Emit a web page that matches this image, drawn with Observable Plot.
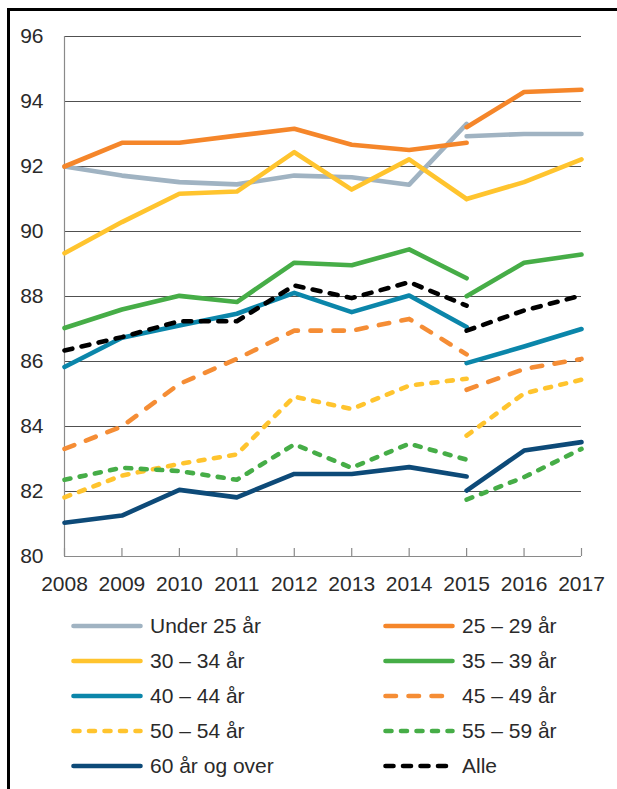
<!DOCTYPE html>
<html>
<head>
<meta charset="utf-8">
<script src="https://cdn.jsdelivr.net/npm/d3@7"></script>
<script src="https://cdn.jsdelivr.net/npm/@observablehq/plot@0.6"></script>
<style>
  html, body { margin: 0; padding: 0; background: #fff; }
  body { width: 617px; height: 789px; position: relative; overflow: hidden; font-family: "Liberation Sans", Arial, sans-serif; }
  #frameTop { position: absolute; left: 7px; top: 8px; width: 610px; height: 3px; background: #000; }
  #frameLeft { position: absolute; left: 7px; top: 8px; width: 2.5px; height: 781px; background: #000; }
  #chart { position: absolute; left: 0; top: 0; }
  #legend { position: absolute; left: 71px; top: 608px; display: grid; grid-template-columns: 312px 200px; grid-auto-rows: 35px; }
  .item { display: flex; align-items: center; font-size: 21px; font-weight: 400; color: #2a2a2a; white-space: nowrap; }
  .item svg { margin-right: 7px; flex: none; }
</style>
</head>
<body>
<div id="chart"></div>
<div id="frameTop"></div>
<div id="frameLeft"></div>
<div id="legend"></div>
<script>
// Years and tick values
const years = [2008, 2009, 2010, 2011, 2012, 2013, 2014, 2015, 2016, 2017];
const yearsA = [2008, 2009, 2010, 2011, 2012, 2013, 2014, 2015];
const yearsB = [2015, 2016, 2017];
const yTicks = [80, 82, 84, 86, 88, 90, 92, 94, 96];

// Series names (legend labels)
const names = ["Under 25 år", "25 – 29 år", "30 – 34 år", "35 – 39 år", "40 – 44 år",
               "45 – 49 år", "50 – 54 år", "55 – 59 år", "60 år og over", "Alle"];

// Values 2008–2015 (old series) and 2015–2017 (new series)
const under25A = [92.0, 91.72, 91.52, 91.45, 91.72, 91.67, 91.44, 93.31];
const under25B = [92.93, 93.0, 93.0];
const age25A = [92.0, 92.73, 92.73, 92.95, 93.16, 92.67, 92.51, 92.73];
const age25B = [93.21, 94.29, 94.36];
const age30A = [89.33, 90.29, 91.16, 91.23, 92.44, 91.29, 92.22, 91.0];
const age30B = [91.0, 91.52, 92.22];
const age35A = [87.03, 87.6, 88.02, 87.83, 89.04, 88.96, 89.45, 88.56];
const age35B = [88.01, 89.04, 89.29];
const age40A = [85.83, 86.73, 87.11, 87.47, 88.11, 87.52, 88.03, 87.06];
const age40B = [85.95, 86.46, 87.0];
const age45A = [83.31, 84.0, 85.31, 86.08, 86.95, 86.95, 87.31, 86.22];
const age45B = [85.13, 85.77, 86.08];
const age50A = [81.82, 82.49, 82.85, 83.14, 84.92, 84.54, 85.26, 85.47];
const age50B = [83.72, 85.02, 85.44];
const age55A = [82.36, 82.73, 82.63, 82.36, 83.45, 82.73, 83.47, 82.98];
const age55B = [81.75, 82.44, 83.31];
const age60A = [81.04, 81.26, 82.05, 81.82, 82.54, 82.54, 82.75, 82.46];
const age60B = [82.03, 83.26, 83.52];
const alleA = [86.34, 86.75, 87.24, 87.24, 88.34, 87.95, 88.44, 87.72];
const alleB = [86.95, 87.57, 88.03];

// Styles
const colors = ["#a0b3c2", "#f5862a", "#ffc42e", "#46ad47", "#0b86aa",
                "#f58d35", "#ffc42e", "#46ad47", "#0d4a78", "#000000"];
const dashes = [null, null, null, null, null, "10.5,12.5", "6,9.5", "6,9.5", null, "8,9.5"];

const seriesA = [under25A, age25A, age30A, age35A, age40A, age45A, age50A, age55A, age60A, alleA];
const seriesB = [under25B, age25B, age30B, age35B, age40B, age45B, age50B, age55B, age60B, alleB];

const drawOrder = [0, 1, 2, 3, 4, 5, 6, 7, 8, 9];

const lineMarks = drawOrder.map(i => {
  const rows = [
    ...yearsA.map((yr, k) => ({year: yr, value: seriesA[i][k], seg: "A"})),
    ...yearsB.map((yr, k) => ({year: yr, value: seriesB[i][k], seg: "B"}))
  ];
  const opts = {x: "year", y: "value", z: "seg", stroke: colors[i], strokeWidth: 4.6,
                strokeLinecap: "round", strokeLinejoin: "round"};
  if (dashes[i]) opts.strokeDasharray = dashes[i];
  return Plot.line(rows, opts);
});

const chart = Plot.plot({
  width: 617,
  height: 600,
  marginLeft: 64,
  marginRight: 36,
  marginTop: 36,
  marginBottom: 44,
  style: {fontFamily: "'Liberation Sans', Arial, sans-serif", fontSize: "21px", color: "#2a2a2a", background: "transparent"},
  x: {domain: [2008, 2017], label: null},
  y: {domain: [80, 96], label: null},
  marks: [
    Plot.ruleY(yTicks.filter(t => t > 80), {y: d => d, stroke: "#505050", strokeWidth: 1}),
    Plot.ruleX([2008], {stroke: "#8a8a8a", strokeWidth: 1.2}),
    Plot.ruleY([80], {stroke: "#8a8a8a", strokeWidth: 1.2}),
    Plot.axisX({ticks: years, tickFormat: () => "", tickSize: -8, stroke: "#8a8a8a", strokeWidth: 1.2, label: null}),
    Plot.axisX({ticks: years, tickFormat: "d", tickSize: 0, tickPadding: 20, fill: "#2a2a2a", label: null}),
    Plot.axisY({ticks: yTicks, tickSize: 0, tickPadding: 21, fill: "#2a2a2a", label: null}),
    ...lineMarks
  ]
});
document.getElementById("chart").appendChild(chart);

// Legend
const legendOrder = [0, 1, 2, 3, 4, 5, 6, 7, 8, 9];
const legend = document.getElementById("legend");
legendOrder.forEach(i => {
  const item = document.createElement("div");
  item.className = "item";
  const ns = "http://www.w3.org/2000/svg";
  const svg = document.createElementNS(ns, "svg");
  svg.setAttribute("width", "72");
  svg.setAttribute("height", "10");
  const ln = document.createElementNS(ns, "line");
  ln.setAttribute("x1", "2.5"); ln.setAttribute("x2", "69.5");
  ln.setAttribute("y1", "5"); ln.setAttribute("y2", "5");
  ln.setAttribute("stroke", colors[i]);
  ln.setAttribute("stroke-width", "4.6");
  ln.setAttribute("stroke-linecap", "round");
  if (dashes[i]) ln.setAttribute("stroke-dasharray", dashes[i]);
  svg.appendChild(ln);
  item.appendChild(svg);
  const span = document.createElement("span");
  span.textContent = names[i];
  item.appendChild(span);
  legend.appendChild(item);
});
</script>
</body>
</html>
